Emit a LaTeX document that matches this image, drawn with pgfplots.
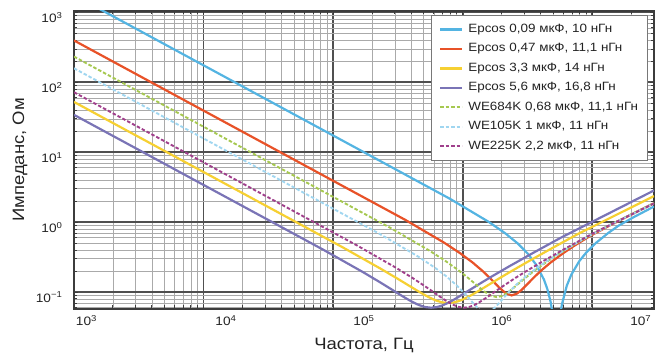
\documentclass[border=0pt]{standalone}
\usepackage{fontspec}
\setmainfont{Liberation Sans}[FakeStretch=1.12]
\usepackage{pgfplots}
\pgfplotsset{compat=1.18}
\definecolor{cBlue}{RGB}{84,180,226}
\definecolor{cRed}{RGB}{232,82,40}
\definecolor{cYellow}{RGB}{246,208,50}
\definecolor{cPurple}{RGB}{122,116,182}
\definecolor{cGreen}{RGB}{166,200,80}
\definecolor{cLBlue}{RGB}{160,214,240}
\definecolor{cMag}{RGB}{160,64,140}
\definecolor{cGridD}{RGB}{80,80,80}
\definecolor{cGridL}{RGB}{170,170,170}
\definecolor{cAxis}{RGB}{60,60,60}
\definecolor{cText}{RGB}{35,35,35}
\definecolor{cLeg}{RGB}{120,120,120}
\tikzset{
  sBlue/.style={color=cBlue, line width=2.2pt},
  sRed/.style={color=cRed, line width=2.2pt},
  sYellow/.style={color=cYellow, line width=2.2pt},
  sPurple/.style={color=cPurple, line width=2.2pt},
  sGreen/.style={color=cGreen, line width=1.9pt, dash pattern=on 3.5pt off 2pt},
  sLBlue/.style={color=cLBlue, line width=1.9pt, dash pattern=on 3.5pt off 2pt},
  sMag/.style={color=cMag, line width=1.9pt, dash pattern=on 3.5pt off 2pt},
}
\begin{document}
\begin{tikzpicture}
\path[use as bounding box] (-74pt,-46pt) rectangle (583pt,309pt);
\begin{axis}[
  at={(0,0)}, anchor=south west,
  scale only axis, width=580pt, height=298pt,
  xmode=log, ymode=log,
  xmin=1e3, xmax=3e7, ymin=0.0575, ymax=1050,
  xtick={1e3,1e4,1e5,1e6,1e7},
  xticklabels={,,,,},
  minor xtick={2e3,3e3,4e3,5e3,6e3,7e3,8e3,9e3,2e4,3e4,4e4,5e4,6e4,7e4,8e4,9e4,2e5,3e5,4e5,5e5,6e5,7e5,8e5,9e5,2e6,3e6,4e6,5e6,6e6,7e6,8e6,9e6,2e7},
  ytick={0.1,1,10,100,1000},
  yticklabels={10\textsuperscript{−1},10\textsuperscript{0},10\textsuperscript{1},10\textsuperscript{2},10\textsuperscript{3}},
  minor ytick={0.06,0.07,0.08,0.09,0.2,0.3,0.4,0.5,0.6,0.7,0.8,0.9,2,3,4,5,6,7,8,9,20,30,40,50,60,70,80,90,200,300,400,500,600,700,800,900},
  extra x ticks={1247,14894,172980,2004500,23710000},
  extra x tick labels={10\textsuperscript{3},10\textsuperscript{4},10\textsuperscript{5},10\textsuperscript{6},10\textsuperscript{7}},
  extra x tick style={grid=none, major tick length=0pt},
  grid=both,
  major grid style={line width=1.8pt, draw=cGridD},
  minor grid style={line width=0.8pt, draw=cGridL},
  axis line style={line width=1.3pt, draw=cAxis},
  tick style={draw=cAxis, line width=1pt},
  major tick length=4pt, minor tick length=3.5pt,
  tick label style={font=\fontsize{12.2}{13}\selectfont, text=cText},
  xticklabel style={yshift=-3pt},
  yticklabel style={xshift=-8pt, yshift=-5pt},
  xlabel={Частота, Гц}, ylabel={Импеданс, Ом},
  every axis x label/.style={at={(axis description cs:0.5,-0.124)}, anchor=center, font=\fontsize{16.5}{18}\selectfont, text=cText},
  every axis y label/.style={at={(axis description cs:-0.0931,0.5)}, anchor=center, rotate=90, font=\fontsize{16.5}{18}\selectfont, text=cText},
  legend style={at={(1,1)}, anchor=north east, xshift=-6pt, yshift=-4pt, draw=cLeg, line width=0.9pt, fill=white, font=\fontsize{12}{14}\selectfont, text=cText, inner xsep=8pt, inner ysep=7pt, row sep=5.5pt, column sep=3.5pt, nodes={inner sep=1.5pt, text height=8.5pt, text depth=2.5pt}},
  legend cell align=left,
  legend image code/.code={\draw[#1] (0pt,0pt) -- (22pt,0pt);},
]
\addplot[sBlue] coordinates {(1000,1768.4) (7.9575e5,2.1722) (1.5915e6,1.0111) (2.122e6,0.700) (2.6525e6,0.5004) (3.183e6,0.3562) (3.7135e6,0.2437) (4.244e6,0.1513) (4.509e6,0.1106) (4.7745e6,0.07316) (5.040e6,0.0396) (5.305e6,0.02) (5.570e6,0.0382) (5.8355e6,0.0667) (6.366e6,0.1238) (6.8965e6,0.1780) (7.9575e6,0.2785) (9.0185e6,0.3711) (1.061e7,0.5004) (1.32625e7,0.70) (1.5915e7,0.889) (2.122e7,1.20) (3e7,1.68)};
\addlegendentry{Epcos 0,09 мкФ, 10 нГн}
\addplot[sRed] coordinates {(1000,397.9) (3.5828e5,1.0893) (7.1655e5,0.5132) (9.554e5,0.3612) (1.19425e6,0.2656) (1.4331e6,0.1992) (1.67195e6,0.1511) (1.9108e6,0.1171) (2.14965e6,0.0966) (2.3885e6,0.09) (2.62735e6,0.0955) (2.8662e6,0.1088) (3.10505e6,0.1262) (3.58275e6,0.1654) (4.06045e6,0.2059) (4.777e6,0.2656) (5.97125e6,0.3612) (7.1655e6,0.4532) (9.554e6,0.6311) (1.4331e7,0.942) (2.3885e7,1.52) (3e7,1.87)};
\addlegendentry{Epcos 0,47 мкФ, 11,1 нГн}
\addplot[sYellow] coordinates {(1000,52.53) (1.15905e5,0.4485) (2.3181e5,0.2177) (3.0908e5,0.1590) (3.8635e5,0.1237) (4.6362e5,0.1008) (5.4089e5,0.0858) (6.1816e5,0.0764) (6.9543e5,0.0715) (7.727e5,0.07) (8.4997e5,0.0712) (9.2724e5,0.0743) (1.00451e6,0.0788) (1.15905e6,0.0900) (1.31359e6,0.1030) (1.5454e6,0.1237) (1.93175e6,0.1590) (2.3181e6,0.1943) (3.0908e6,0.2643) (4.6362e6,0.4026) (7.727e6,0.6766) (3e7,2.37)};
\addlegendentry{Epcos 3,3 мкФ, 14 нГн}
\addplot[sPurple] coordinates {(1000,34.37) (8.5599e4,0.3971) (1.71198e5,0.1923) (2.28264e5,0.1400) (2.8533e5,0.1085) (3.42396e5,0.0879) (3.99462e5,0.0743) (4.56528e5,0.0658) (5.13594e5,0.0613) (5.7066e5,0.06) (6.27726e5,0.0611) (6.84792e5,0.0639) (7.41858e5,0.0680) (8.5599e5,0.0782) (9.70122e5,0.0899) (1.14132e6,0.1085) (1.42665e6,0.1400) (1.71198e6,0.1715) (2.28264e6,0.2337) (3.42396e6,0.3565) (5.7066e6,0.5994) (3e7,2.85)};
\addlegendentry{Epcos 5,6 мкФ, 16,8 нГн}
\addplot[sGreen] coordinates {(1000,234.05) (2.748e5,0.8370) (5.496e5,0.3968) (7.328e5,0.2815) (9.16e5,0.2097) (1.0992e6,0.1606) (1.2824e6,0.1261) (1.4656e6,0.1026) (1.6488e6,0.0892) (1.832e6,0.085) (2.0152e6,0.0884) (2.1984e6,0.0971) (2.3816e6,0.1087) (2.748e6,0.1362) (3.1144e6,0.1655) (3.664e6,0.2097) (4.58e6,0.2815) (5.496e6,0.3512) (7.328e6,0.4866) (1.0992e7,0.745) (1.832e7,1.20) (3e7,1.88)};
\addlegendentry{WE684K 0,68 мкФ, 11,1 нГн}
\addplot[sLBlue] coordinates {(1000,159.15) (2.27625e5,0.6853) (4.5525e5,0.3220) (6.07e5,0.2259) (7.5875e5,0.1651) (9.105e5,0.1225) (1.06225e6,0.0913) (1.214e6,0.0688) (1.36575e6,0.0547) (1.5175e6,0.05) (1.66925e6,0.0539) (1.821e6,0.0631) (1.97275e6,0.0748) (2.27625e6,0.1007) (2.57975e6,0.1269) (3.035e6,0.1651) (3.79375e6,0.2259) (4.5525e6,0.2841) (6.07e6,0.3965) (9.105e6,0.6138) (1.5175e7,1.00) (3e7,1.86)};
\addlegendentry{WE105K 1 мкФ, 11 нГн}
\addplot[sMag] coordinates {(1000,72.34) (1.53465e5,0.4647) (3.0693e5,0.2227) (4.0924e5,0.1602) (5.1155e5,0.1219) (6.1386e5,0.0964) (7.1617e5,0.0791) (8.1848e5,0.0679) (9.2079e5,0.0618) (1.0231e6,0.06) (1.12541e6,0.0615) (1.22772e6,0.0654) (1.33003e6,0.0708) (1.53465e6,0.0841) (1.73927e6,0.0989) (2.0462e6,0.1219) (2.55775e6,0.1602) (3.0693e6,0.1979) (4.0924e6,0.2719) (6.1386e6,0.4168) (1.0231e7,0.70) (3e7,1.86)};
\addlegendentry{WE225K 2,2 мкФ, 11 нГн}
\end{axis}
\end{tikzpicture}
\end{document}
